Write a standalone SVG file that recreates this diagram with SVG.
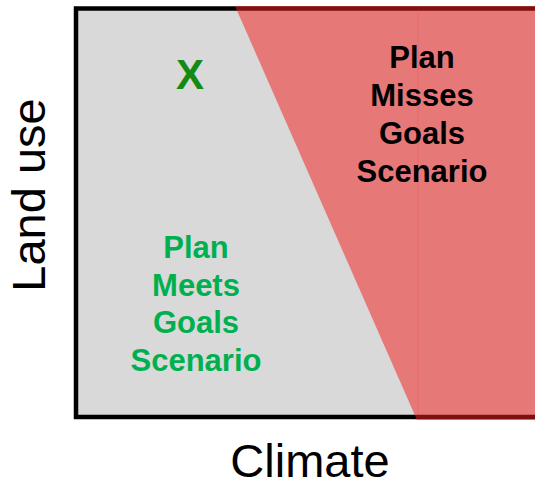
<svg xmlns="http://www.w3.org/2000/svg" width="535" height="484" viewBox="0 0 535 484">
<style>
.lbl{font-family:"Liberation Sans",Arial,sans-serif;text-anchor:middle}
.b{font-weight:bold;font-size:31px}
.axis{font-size:47px;fill:#000}
</style>
<rect x="0" y="0" width="535" height="484" fill="#fff"/>
<g id="plot">
<rect x="76" y="8.5" width="470" height="408.5" fill="#d9d9d9" stroke="#000" stroke-width="4.5"/>
</g>
<g id="miss-region">
<polygon points="235,6 418,6 418,420 417,420" fill="#f41e1e" fill-opacity="0.52"/>
<rect x="418" y="6" width="120" height="414" fill="#f41e1e" fill-opacity="0.52"/>
<line x1="418" y1="6" x2="418" y2="420" stroke="#f41e1e" stroke-opacity="0.15" stroke-width="1"/>
</g>
<g id="x-mark"><text class="lbl" x="190" y="89" font-size="42" font-weight="bold" fill="#138a13">X</text></g>
<g id="misses" class="lbl b" fill="#000">
<text x="422" y="68">Plan</text>
<text x="422" y="106">Misses</text>
<text x="422" y="144">Goals</text>
<text x="422" y="182">Scenario</text>
</g>
<g id="meets" class="lbl b" fill="#00b050">
<text x="196" y="258">Plan</text>
<text x="196" y="296">Meets</text>
<text x="196" y="333">Goals</text>
<text x="196" y="371">Scenario</text>
</g>
<g id="axes">
<text class="lbl axis" x="310" y="477">Climate</text>
<text class="lbl axis" transform="translate(45,195) rotate(-90)">Land use</text>
</g>
</svg>
